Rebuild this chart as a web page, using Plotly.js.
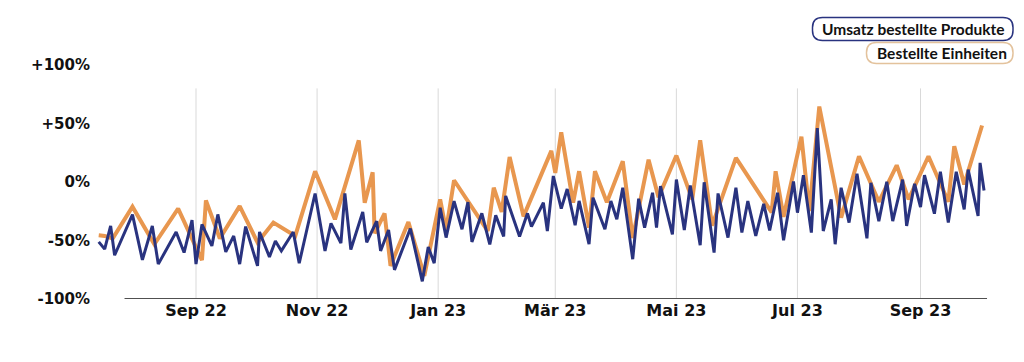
<!DOCTYPE html>
<html><head><meta charset="utf-8">
<script src="https://cdn.plot.ly/plotly-3.0.1.min.js"></script>
<style>html,body{margin:0;padding:0;background:#fff;}#chart{width:1024px;height:362px;}</style>
</head><body><div id="chart"></div>
<script>
// ---- data ----
const seriesNames = ["Umsatz bestellte Produkte", "Bestellte Einheiten"];

const umsatzDates = [
"2022-07-14","2022-07-17","2022-07-20","2022-07-22","2022-07-31","2022-08-05","2022-08-10","2022-08-13",
"2022-08-22","2022-08-26","2022-08-30","2022-09-01","2022-09-04","2022-09-09","2022-09-12","2022-09-16",
"2022-09-20","2022-09-23","2022-09-26","2022-10-02","2022-10-03","2022-10-08","2022-10-11","2022-10-14",
"2022-10-20","2022-10-23","2022-10-31","2022-11-05","2022-11-08","2022-11-13","2022-11-15","2022-11-18",
"2022-11-24","2022-11-26","2022-12-01","2022-12-03","2022-12-07","2022-12-10","2022-12-18","2022-12-24",
"2022-12-27","2022-12-30","2023-01-02","2023-01-05","2023-01-09","2023-01-13","2023-01-16","2023-01-18",
"2023-01-23","2023-01-27","2023-01-30","2023-02-03","2023-02-04","2023-02-11","2023-02-15","2023-02-17",
"2023-02-23","2023-02-25","2023-02-28","2023-03-04","2023-03-07","2023-03-11","2023-03-13","2023-03-18",
"2023-03-20","2023-03-26","2023-03-29","2023-04-01","2023-04-04","2023-04-09","2023-04-12","2023-04-15",
"2023-04-19","2023-04-21","2023-04-23","2023-04-29","2023-05-01","2023-05-05","2023-05-08","2023-05-13",
"2023-05-15","2023-05-20","2023-05-22","2023-05-27","2023-05-31","2023-06-03","2023-06-06","2023-06-10",
"2023-06-14","2023-06-17","2023-06-21","2023-06-24","2023-06-29","2023-07-01","2023-07-04","2023-07-08",
"2023-07-11","2023-07-14","2023-07-18","2023-07-20","2023-07-23","2023-07-27","2023-07-31","2023-08-05",
"2023-08-07","2023-08-11","2023-08-15","2023-08-18","2023-08-23","2023-08-25","2023-08-29","2023-09-01",
"2023-09-03","2023-09-08","2023-09-11","2023-09-15","2023-09-19","2023-09-23","2023-09-25","2023-09-30",
"2023-10-01","2023-10-03"];
const umsatzValues = [
-51.2,-57.4,-37.6,-62.6,-27.9,-66.6,-37.6,-70.2,
-42.7,-60.3,-32.5,-70.2,-36.2,-54.6,-27.7,-59.7,
-46.1,-70.2,-38.1,-71.7,-42.7,-64.0,-50.4,-58.9,
-42.7,-69.4,-9.8,-58.9,-35.3,-52.3,-9.8,-57.7,
-25.7,-51.5,-33.4,-58.9,-41.0,-75.1,-39.8,-84.9,
-55.5,-69.4,-22.0,-47.5,-16.3,-40.4,-17.2,-51.2,
-26.8,-53.4,-28.5,-46.6,-11.9,-46.6,-26.8,-38.1,
-17.7,-41.9,5.1,-22.8,-6.0,-37.0,-16.2,-53.2,
-13.4,-40.4,-16.3,-31.9,-4.9,-66.0,-14.3,-39.0,
-9.2,-39.0,-3.6,-44.7,2.1,-41.0,-3.0,-54.0,
-0.2,-60.3,-9.8,-47.5,-4.9,-43.2,-16.3,-46.0,
-18.7,-41.3,-9.2,-49.8,0.4,-26.2,5.7,-43.2,
46.1,-41.9,-14.9,-53.2,-4.9,-34.7,7.0,-48.1,
-0.7,-33.4,0.2,-33.4,2.1,-37.6,-1.5,-21.4,
5.8,-27.1,8.7,-34.7,8.7,-23.4,10.6,-29.1,
16.3,-7.2];

const einheitenDates = [
"2022-07-14","2022-07-17","2022-07-21","2022-07-31","2022-08-11","2022-08-23","2022-09-04","2022-09-06",
"2022-09-13","2022-09-23","2022-10-02","2022-10-10","2022-10-21","2022-10-31","2022-11-10","2022-11-22",
"2022-11-25","2022-11-29","2022-11-30","2022-12-05","2022-12-08","2022-12-17","2022-12-25","2023-01-02",
"2023-01-05","2023-01-09","2023-01-26","2023-01-29","2023-02-02","2023-02-06","2023-02-13","2023-02-27",
"2023-03-01","2023-03-04","2023-03-10","2023-03-13","2023-03-18","2023-03-21","2023-03-27","2023-04-04",
"2023-04-09","2023-04-17","2023-04-22","2023-05-01","2023-05-09","2023-05-13","2023-05-19","2023-05-31",
"2023-06-18","2023-06-20","2023-06-24","2023-07-03","2023-07-07","2023-07-12","2023-07-23","2023-08-01",
"2023-08-11","2023-08-20","2023-08-26","2023-09-05","2023-09-15","2023-09-18","2023-09-23","2023-10-02"];
const einheitenValues = [
-45.5,-46.1,-48.3,-21.1,-53.2,-22.8,-66.8,-15.7,
-48.3,-20.6,-51.7,-34.7,-46.1,9.2,-31.9,35.6,
-17.7,8.3,-43.8,-26.8,-71.7,-34.2,-80.2,-14.9,
-41.3,1.5,-41.9,-4.9,-25.5,21.4,-29.4,26.6,
7.8,42.4,-17.7,9.2,-39.0,9.2,-17.4,17.7,
-47.9,19.1,-13.0,22.6,-14.9,35.6,-37.3,20.6,
-26.0,9.2,-29.8,38.7,-24.9,64.5,-30.5,22.0,
-16.9,14.3,-14.9,22.0,-16.9,30.5,-2.1,48.3];

const tickDates = ["2022-09-01","2022-11-01","2023-01-01","2023-03-01","2023-05-01","2023-07-01","2023-09-01"];
const tickLabels = ["Sep 22","Nov 22","Jan 23","Mär 23","Mai 23","Jul 23","Sep 23"];
const yTickValues = [-100, -50, 0, 50, 100];
const yTickLabels = ["-100%", "-50%", "0%", "+50%", "+100%"];

// ---- styling / layout ----
const BLUE = "#29337f", ORANGE = "#e8974f";
const FONT = "Lato, 'Open Sans', sans-serif";
const AXFONT = "'DejaVu Sans', Lato, sans-serif";
const M = {l: 96, r: 34, t: 65, b: 63};
const PW = 1024 - M.l - M.r, PH = 362 - M.t - M.b;
const px = p => (p - M.l) / PW;
const py = p => (362 - M.b - p) / PH;

function roundRect(x0, y0, x1, y1, r) {
  const P = (x, y) => px(x).toFixed(5) + "," + py(y).toFixed(5);
  return "M" + P(x0 + r, y0) + " L" + P(x1 - r, y0) + " Q" + P(x1, y0) + " " + P(x1, y0 + r) +
    " L" + P(x1, y1 - r) + " Q" + P(x1, y1) + " " + P(x1 - r, y1) +
    " L" + P(x0 + r, y1) + " Q" + P(x0, y1) + " " + P(x0, y1 - r) +
    " L" + P(x0, y0 + r) + " Q" + P(x0, y0) + " " + P(x0 + r, y0) + " Z";
}

const shapes = [];
tickDates.forEach(d => shapes.push({type: "line", xref: "x", yref: "y", x0: d, x1: d, y0: -100, y1: 80,
  line: {color: "#d9d9d9", width: 1}, layer: "below"}));
shapes.push({type: "line", xref: "x", yref: "y", x0: "2022-07-27", x1: "2023-10-04 12:00", y0: -100, y1: -100,
  line: {color: "#505050", width: 2}, layer: "below"});
shapes.push({type: "path", xref: "paper", yref: "paper", path: roundRect(812.5, 17.5, 1013, 40.5, 10),
  line: {color: BLUE, width: 1.5}, fillcolor: "rgba(255,255,255,0)"});
shapes.push({type: "path", xref: "paper", yref: "paper", path: roundRect(866.5, 42.5, 1013, 63.5, 10),
  line: {color: "#e3c29c", width: 1.5}, fillcolor: "rgba(255,255,255,0)"});

const annotations = [
  {xref: "paper", yref: "paper", x: px(913), y: py(29), xanchor: "center", yanchor: "middle", showarrow: false,
   text: seriesNames[0], font: {family: FONT, size: 15.5, color: "#111", weight: "bold"}},
  {xref: "paper", yref: "paper", x: px(941.5), y: py(53), xanchor: "center", yanchor: "middle", showarrow: false,
   text: seriesNames[1], font: {family: FONT, size: 15.5, color: "#111", weight: "bold"}}
];

const traces = [
  {x: einheitenDates, y: einheitenValues, type: "scatter", mode: "lines", name: seriesNames[1],
   line: {color: ORANGE, width: 4}, hoverinfo: "skip", showlegend: false},
  {x: umsatzDates, y: umsatzValues, type: "scatter", mode: "lines", name: seriesNames[0],
   line: {color: BLUE, width: 3}, hoverinfo: "skip", showlegend: false}
];

const layout = {
  width: 1024, height: 362, margin: M,
  paper_bgcolor: "#fff", plot_bgcolor: "#fff",
  font: {family: FONT, color: "#111"},
  showlegend: false,
  xaxis: {type: "date", range: ["2022-07-12 15:00", "2023-10-06"], showgrid: false, zeroline: false, showline: false,
    tickvals: tickDates, ticktext: tickLabels, ticks: "", tickfont: {family: AXFONT, size: 16, color: "#111", weight: "bold"}},
  yaxis: {range: [-100, 100], showgrid: false, zeroline: false, showline: false, ticklabelstandoff: 5,
    tickvals: yTickValues, ticktext: yTickLabels, ticks: "", tickfont: {family: AXFONT, size: 15, color: "#111", weight: "bold"}},
  shapes: shapes, annotations: annotations
};

Plotly.newPlot("chart", traces, layout, {staticPlot: true, displayModeBar: false});
</script>
</body></html>
